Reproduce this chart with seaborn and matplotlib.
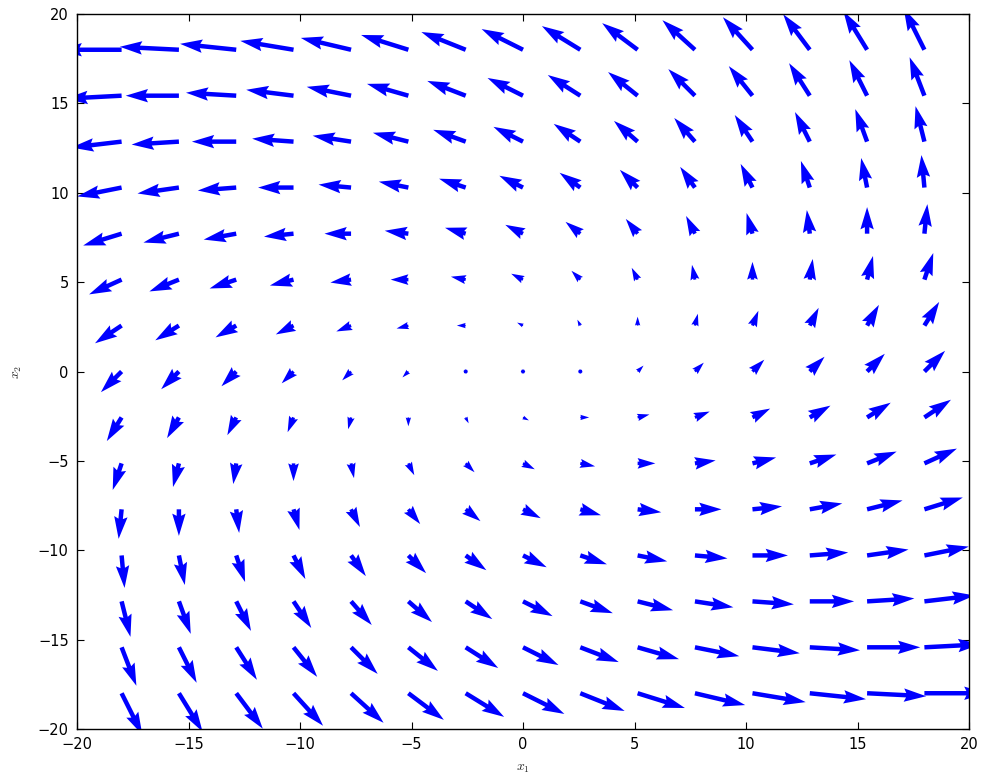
import numpy as np
import matplotlib
matplotlib.use("Agg")
import matplotlib.pyplot as plt
import seaborn as sns

# Grid of sample points for the phase portrait
x1_points = [-18.0, -15.43, -12.86, -10.29, -7.71, -5.14, -2.57, 0.0,
             2.57, 5.14, 7.71, 10.29, 12.86, 15.43, 18.0]
x2_points = [-18.0, -15.43, -12.86, -10.29, -7.71, -5.14, -2.57, 0.0,
             2.57, 5.14, 7.71, 10.29, 12.86, 15.43, 18.0]

# Linear system  dx/dt = A x
A = [[1.0, -2.0],
     [1.0, 1.0]]

ticks = [-20, -15, -10, -5, 0, 5, 10, 15, 20]

sns.set_style("ticks")
plt.rcParams["font.family"] = ["DejaVu Sans"]
plt.rcParams["mathtext.fontset"] = "cm"

X1, X2 = np.meshgrid(x1_points, x2_points)
U = A[0][0] * X1 + A[0][1] * X2
V = A[1][0] * X1 + A[1][1] * X2

fig = plt.figure(figsize=(9.84, 7.76), dpi=100)
ax = fig.add_axes([77 / 984, 1 - 729 / 776, 892 / 984, 715 / 776])

ax.quiver(X1, X2, U, V, color="#0000ff", scale_units="dots", scale=0.87,
          width=0.005, zorder=2)

ax.set_xlim(-20, 20)
ax.set_ylim(-20, 20)
ax.set_xticks(ticks)
ax.set_yticks(ticks)
ax.tick_params(direction="in", length=5, width=0.8, top=True, right=True,
               labelsize=10.5, colors="black", pad=6)
for s in ax.spines.values():
    s.set_visible(True)
    s.set_color("black")
    s.set_linewidth(1.0)

ax.set_xlabel("$x_1$", fontsize=10, labelpad=6)
ax.set_ylabel("$x_2$", fontsize=10, labelpad=10)

fig.savefig("out.png", dpi=100, facecolor="white")
